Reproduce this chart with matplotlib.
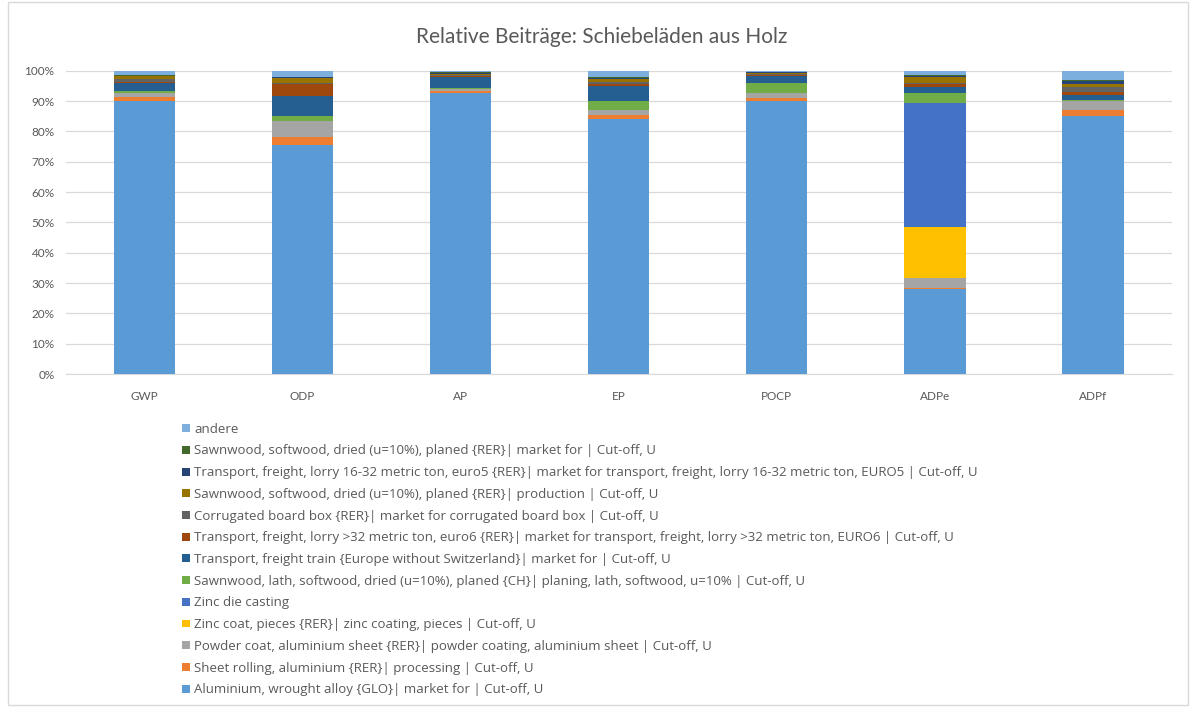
import numpy as np
import matplotlib.pyplot as plt
from matplotlib.patches import Rectangle

plt.rcParams['font.family'] = ['Lato', 'DejaVu Sans']

# Kategorien
kategorien = ['GWP', 'ODP', 'AP', 'EP', 'POCP', 'ADPe', 'ADPf']

# Legendentexte (von unten nach oben gestapelt)
namen = [
    'Aluminium, wrought alloy {GLO}| market for | Cut-off, U',
    'Sheet rolling, aluminium {RER}| processing | Cut-off, U',
    'Powder coat, aluminium sheet {RER}| powder coating, aluminium sheet | Cut-off, U',
    'Zinc coat, pieces {RER}| zinc coating, pieces | Cut-off, U',
    'Zinc die casting',
    'Sawnwood, lath, softwood, dried (u=10%), planed {CH}| planing, lath, softwood, u=10% | Cut-off, U',
    'Transport, freight train {Europe without Switzerland}| market for | Cut-off, U',
    'Transport, freight, lorry >32 metric ton, euro6 {RER}| market for transport, freight, lorry >32 metric ton, EURO6 | Cut-off, U',
    'Corrugated board box {RER}| market for corrugated board box | Cut-off, U',
    'Sawnwood, softwood, dried (u=10%), planed {RER}| production | Cut-off, U',
    'Transport, freight, lorry 16-32 metric ton, euro5 {RER}| market for transport, freight, lorry 16-32 metric ton, EURO5 | Cut-off, U',
    'Sawnwood, softwood, dried (u=10%), planed {RER}| market for | Cut-off, U',
    'andere',
]

farben = ['#5B9BD5', '#ED7D31', '#A5A5A5', '#FFC000', '#4472C4', '#70AD47',
          '#255E91', '#9E480E', '#636363', '#997300', '#264478', '#43682B',
          '#7CAFDD']

# Anteile in % je Kategorie (Reihenfolge wie namen)
aluminium    = [90.0, 75.5, 92.5, 84.0, 90.0, 28.0, 85.0]
sheet_roll   = [1.2, 2.5, 0.8, 1.5, 1.0, 0.5, 2.0]
powder_coat  = [1.3, 5.5, 0.7, 1.5, 1.8, 3.0, 3.0]
zinc_coat    = [0.0, 0.0, 0.0, 0.0, 0.0, 17.0, 0.0]
zinc_die     = [0.0, 0.0, 0.0, 0.0, 0.0, 41.0, 0.0]
lath         = [0.8, 1.5, 0.3, 3.0, 3.0, 3.0, 0.5]
train        = [2.5, 6.5, 3.5, 4.8, 2.4, 2.0, 1.5]
lorry_32     = [0.5, 4.0, 0.3, 0.8, 0.3, 1.0, 1.0]
karton       = [1.0, 0.5, 0.6, 0.8, 0.5, 0.5, 1.5]
sawn_prod    = [0.8, 1.5, 0.3, 1.0, 0.2, 1.8, 1.0]
lorry_16     = [0.2, 0.3, 0.3, 0.3, 0.3, 0.5, 1.0]
sawn_market  = [0.2, 0.2, 0.2, 0.3, 0.2, 0.2, 0.5]
andere       = [1.5, 2.0, 0.5, 2.0, 0.3, 1.5, 3.0]

werte = [aluminium, sheet_roll, powder_coat, zinc_coat, zinc_die, lath, train,
         lorry_32, karton, sawn_prod, lorry_16, sawn_market, andere]

fig = plt.figure(figsize=(11.92, 7.07), dpi=100)
ax = fig.add_axes([0.055, 0.471, 0.928, 0.429])

x = np.arange(len(kategorien))
unten = np.zeros(len(kategorien))
balken = []
for name, farbe, w in zip(namen, farben, werte):
    b = ax.bar(x, w, 0.39, bottom=unten, color=farbe, label=name, zorder=3)
    balken.append(b)
    unten += np.array(w)

ax.set_xlim(-0.5, 6.5)
ax.set_ylim(0, 100)
ax.set_yticks(np.arange(0, 101, 10))
ax.set_yticklabels([f'{v}%' for v in range(0, 101, 10)])
ax.set_xticks(x)
ax.set_xticklabels(kategorien)
ax.tick_params(length=0, labelsize=8.5, colors='#595959')
ax.tick_params(axis='x', pad=12)
ax.tick_params(axis='y', pad=8)
ax.grid(axis='y', color='#D9D9D9', linewidth=0.9, zorder=0)
for s in ['top', 'right', 'left']:
    ax.spines[s].set_visible(False)
ax.spines['bottom'].set_color('#D9D9D9')

fig.text(0.505, 0.948, 'Relative Beiträge: Schiebeläden aus Holz',
         ha='center', va='center', fontsize=15, color='#595959')

leg = fig.legend(balken[::-1], namen[::-1], loc='upper left',
                 bbox_to_anchor=(0.153, 0.402), frameon=False,
                 prop={'family': ['Open Sans', 'DejaVu Sans'], 'size': 9.5},
                 handlelength=0.55, handleheight=0.55, handletextpad=0.35,
                 labelspacing=0.66, borderaxespad=0, borderpad=0)
for t in leg.get_texts():
    t.set_color('#595959')

# Rahmen um das Diagramm
fig.patches.append(Rectangle((0.007, 0.003), 0.99, 0.994, transform=fig.transFigure,
                             fill=False, edgecolor='#D9D9D9', linewidth=1))

plt.savefig('out.png', dpi=100)
